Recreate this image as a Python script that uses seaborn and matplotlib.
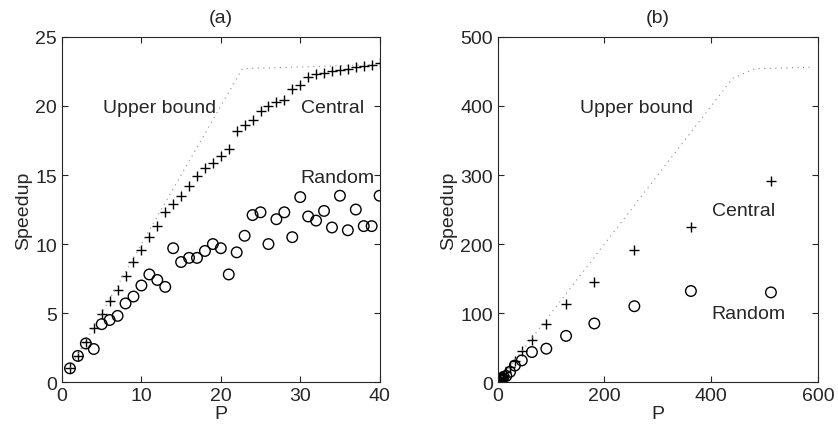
import numpy as np
import pandas as pd
import seaborn as sns
import matplotlib.pyplot as plt

# (a) small machine, P = 1..40
p_small = list(range(1, 41))
central_small = [1.0, 1.9, 2.9, 3.9, 4.9, 5.9, 6.7, 7.7, 8.7, 9.6,
                 10.5, 11.3, 12.3, 12.9, 13.5, 14.2, 14.9, 15.5, 15.9, 16.4,
                 16.9, 18.2, 18.6, 19.0, 19.6, 20.0, 20.3, 20.4, 21.2, 21.5,
                 22.1, 22.3, 22.4, 22.5, 22.6, 22.7, 22.8, 22.9, 23.0, 23.1]
random_small = [1.0, 1.9, 2.8, 2.4, 4.2, 4.5, 4.8, 5.7, 6.2, 7.0,
                7.8, 7.4, 6.9, 9.7, 8.7, 9.0, 9.0, 9.5, 10.0, 9.7,
                7.8, 9.4, 10.6, 12.1, 12.3, 10.0, 11.8, 12.3, 10.5, 13.4,
                12.0, 11.7, 12.4, 11.2, 13.5, 11.0, 12.5, 11.3, 11.3, 13.5]
ub_small_p = [1, 22.7, 40]
ub_small_s = [1, 22.7, 23.0]

# (b) large machine
p_large = [1, 2, 3, 4, 6, 8, 11, 16, 23, 32, 45, 64, 91, 128, 181, 256, 362, 512]
central_large = [1.0, 1.9, 2.9, 3.9, 5.9, 7.7, 10.5, 14.2, 22, 31, 44.6, 60.5,
                 84, 113, 145, 191, 225, 292]
random_large = [1.0, 1.9, 2.8, 2.4, 4.5, 5.7, 7.8, 9.0, 15, 24, 31.5, 43.6,
                48.5, 67, 85, 110, 132, 130]
ub_large_p = [1, 440, 482, 585]
ub_large_s = [1, 440, 454, 456]

sns.set_style("ticks")
plt.rcParams['font.family'] = ['Liberation Sans', 'DejaVu Sans']
plt.rcParams['xtick.direction'] = 'in'
plt.rcParams['ytick.direction'] = 'in'

fig = plt.figure(figsize=(8.38, 4.31), dpi=100)
ax1 = fig.add_axes([0.074, 0.111, 0.379, 0.801])
ax2 = fig.add_axes([0.594, 0.111, 0.382, 0.801])

panels = [
    (ax1, p_small, central_small, random_small, ub_small_p, ub_small_s, '(a)',
     (0, 40), [0, 10, 20, 30, 40], (0, 25), [0, 5, 10, 15, 20, 25],
     [(12.3, 19.9, 'Upper bound'), (34.1, 19.9, 'Central'), (34.7, 14.85, 'Random')]),
    (ax2, p_large, central_large, random_large, ub_large_p, ub_large_s, '(b)',
     (0, 600), [0, 200, 400, 600], (0, 500), [0, 100, 200, 300, 400, 500],
     [(260, 398, 'Upper bound'), (461, 248, 'Central'), (470, 99, 'Random')]),
]

for ax, p, cen, ran, ubp, ubs, title, xl, xt, yl, yt, labels in panels:
    df = pd.DataFrame({'P': p, 'Central': cen, 'Random': ran})
    sns.lineplot(x=ubp, y=ubs, ax=ax, color='0.55', linewidth=0.8,
                 linestyle=(0, (1, 4)))
    sns.scatterplot(data=df, x='P', y='Central', ax=ax, marker='+', s=50,
                    color='black', linewidth=1.0)
    sns.scatterplot(data=df, x='P', y='Random', ax=ax, marker='o', s=58,
                    facecolor='none', edgecolor='black', linewidth=1.0)
    for x, y, t in labels:
        ax.text(x, y, t, ha='center', va='center', fontsize=14)
    ax.set_xlim(*xl)
    ax.set_ylim(*yl)
    ax.set_xticks(xt)
    ax.set_yticks(yt)
    ax.set_title(title, fontsize=14, pad=11)
    ax.set_xlabel('P', fontsize=14, labelpad=1)
    ax.set_ylabel('Speedup', fontsize=14, labelpad=2)
    ax.tick_params(labelsize=14, top=True, right=True, length=4, width=0.8)
    for sp in ax.spines.values():
        sp.set_linewidth(0.8)
        sp.set_visible(True)

fig.savefig('out.png', dpi=100)
